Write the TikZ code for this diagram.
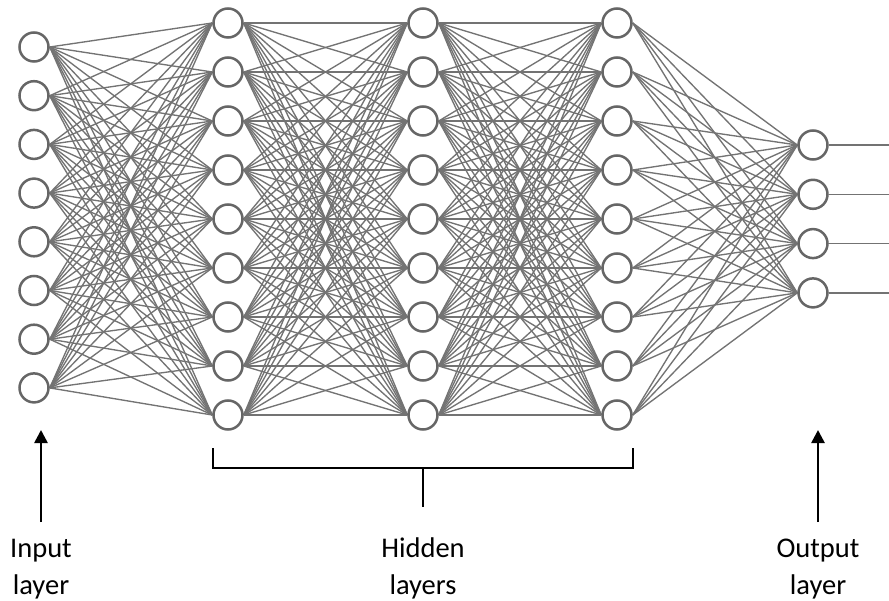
\documentclass[tikz,border=0pt]{standalone}
\usepackage{fontspec}
\setmainfont{Carlito}
\usetikzlibrary{arrows.meta,backgrounds}
\tikzset{
  neuron/.style={circle,draw=black!60,line width=2.5pt,fill=white,minimum size=29pt,inner sep=0pt},
  wire/.style={draw=black!55,line width=1.35pt},
  bigarrow/.style={draw=black,line width=2.6pt,-{Triangle[width=13pt,length=13pt]}},
  bracketline/.style={draw=black,line width=2.6pt},
  lbl/.style={anchor=base,inner sep=0pt,font=\fontsize{28.5}{33}\selectfont}
}
\begin{document}
\begin{tikzpicture}[x=1pt,y=-1pt]
\useasboundingbox (0,0) rectangle (889,601);
% input layer
\foreach \i in {1,...,8}{
  \node[neuron] (i\i) at (34,{47+48.7*(\i-1)}) {};
}
% hidden layers
\foreach \i in {1,...,9}{
  \node[neuron] (a\i) at (228,{23+49*(\i-1)}) {};
  \node[neuron] (b\i) at (423,{23+49*(\i-1)}) {};
  \node[neuron] (c\i) at (617,{23+49*(\i-1)}) {};
}
% output layer
\foreach \i in {1,...,4}{
  \node[neuron] (o\i) at (813,{145+49.3*(\i-1)}) {};
  \coordinate (e\i) at (889,{145+49.3*(\i-1)});
}
\begin{pgfonlayer}{background}
\foreach \i in {1,...,8}{
  \foreach \j in {1,...,9}{
    \draw[wire] (i\i.east) -- (a\j.west);
  }
}
\foreach \i in {1,...,9}{
  \foreach \j in {1,...,9}{
    \draw[wire] (a\i.east) -- (b\j.west);
    \draw[wire] (b\i.east) -- (c\j.west);
  }
  \foreach \j in {1,...,4}{
    \draw[wire] (c\i.east) -- (o\j.west);
  }
}
\foreach \i in {1,...,4}{
  \draw[wire] (o\i.east) -- (e\i);
}
\end{pgfonlayer}
% arrows
\coordinate (inbot) at (41,522);
\coordinate (intop) at (41,430);
\coordinate (outbot) at (818,522);
\coordinate (outtop) at (818,430);
\draw[bigarrow] (inbot) -- (intop);
\draw[bigarrow] (outbot) -- (outtop);
% bracket
\coordinate (bl1) at (213,448);
\coordinate (bl2) at (213,468);
\coordinate (br2) at (633,468);
\coordinate (br1) at (633,448);
\coordinate (bm) at (423,468);
\coordinate (bs) at (423,507);
\draw[bracketline,line join=miter] (bl1) -- (bl2) -- (br2) -- (br1);
\draw[bracketline] (bm) -- (bs);
% labels
\node[lbl] (tin1) at (41,557) {Input};
\node[lbl] (tin2) at (41,594) {layer};
\node[lbl] (thid1) at (423,557) {Hidden};
\node[lbl] (thid2) at (423,594) {layers};
\node[lbl] (tout1) at (818,557) {Output};
\node[lbl] (tout2) at (818,594) {layer};
\end{tikzpicture}
\end{document}
